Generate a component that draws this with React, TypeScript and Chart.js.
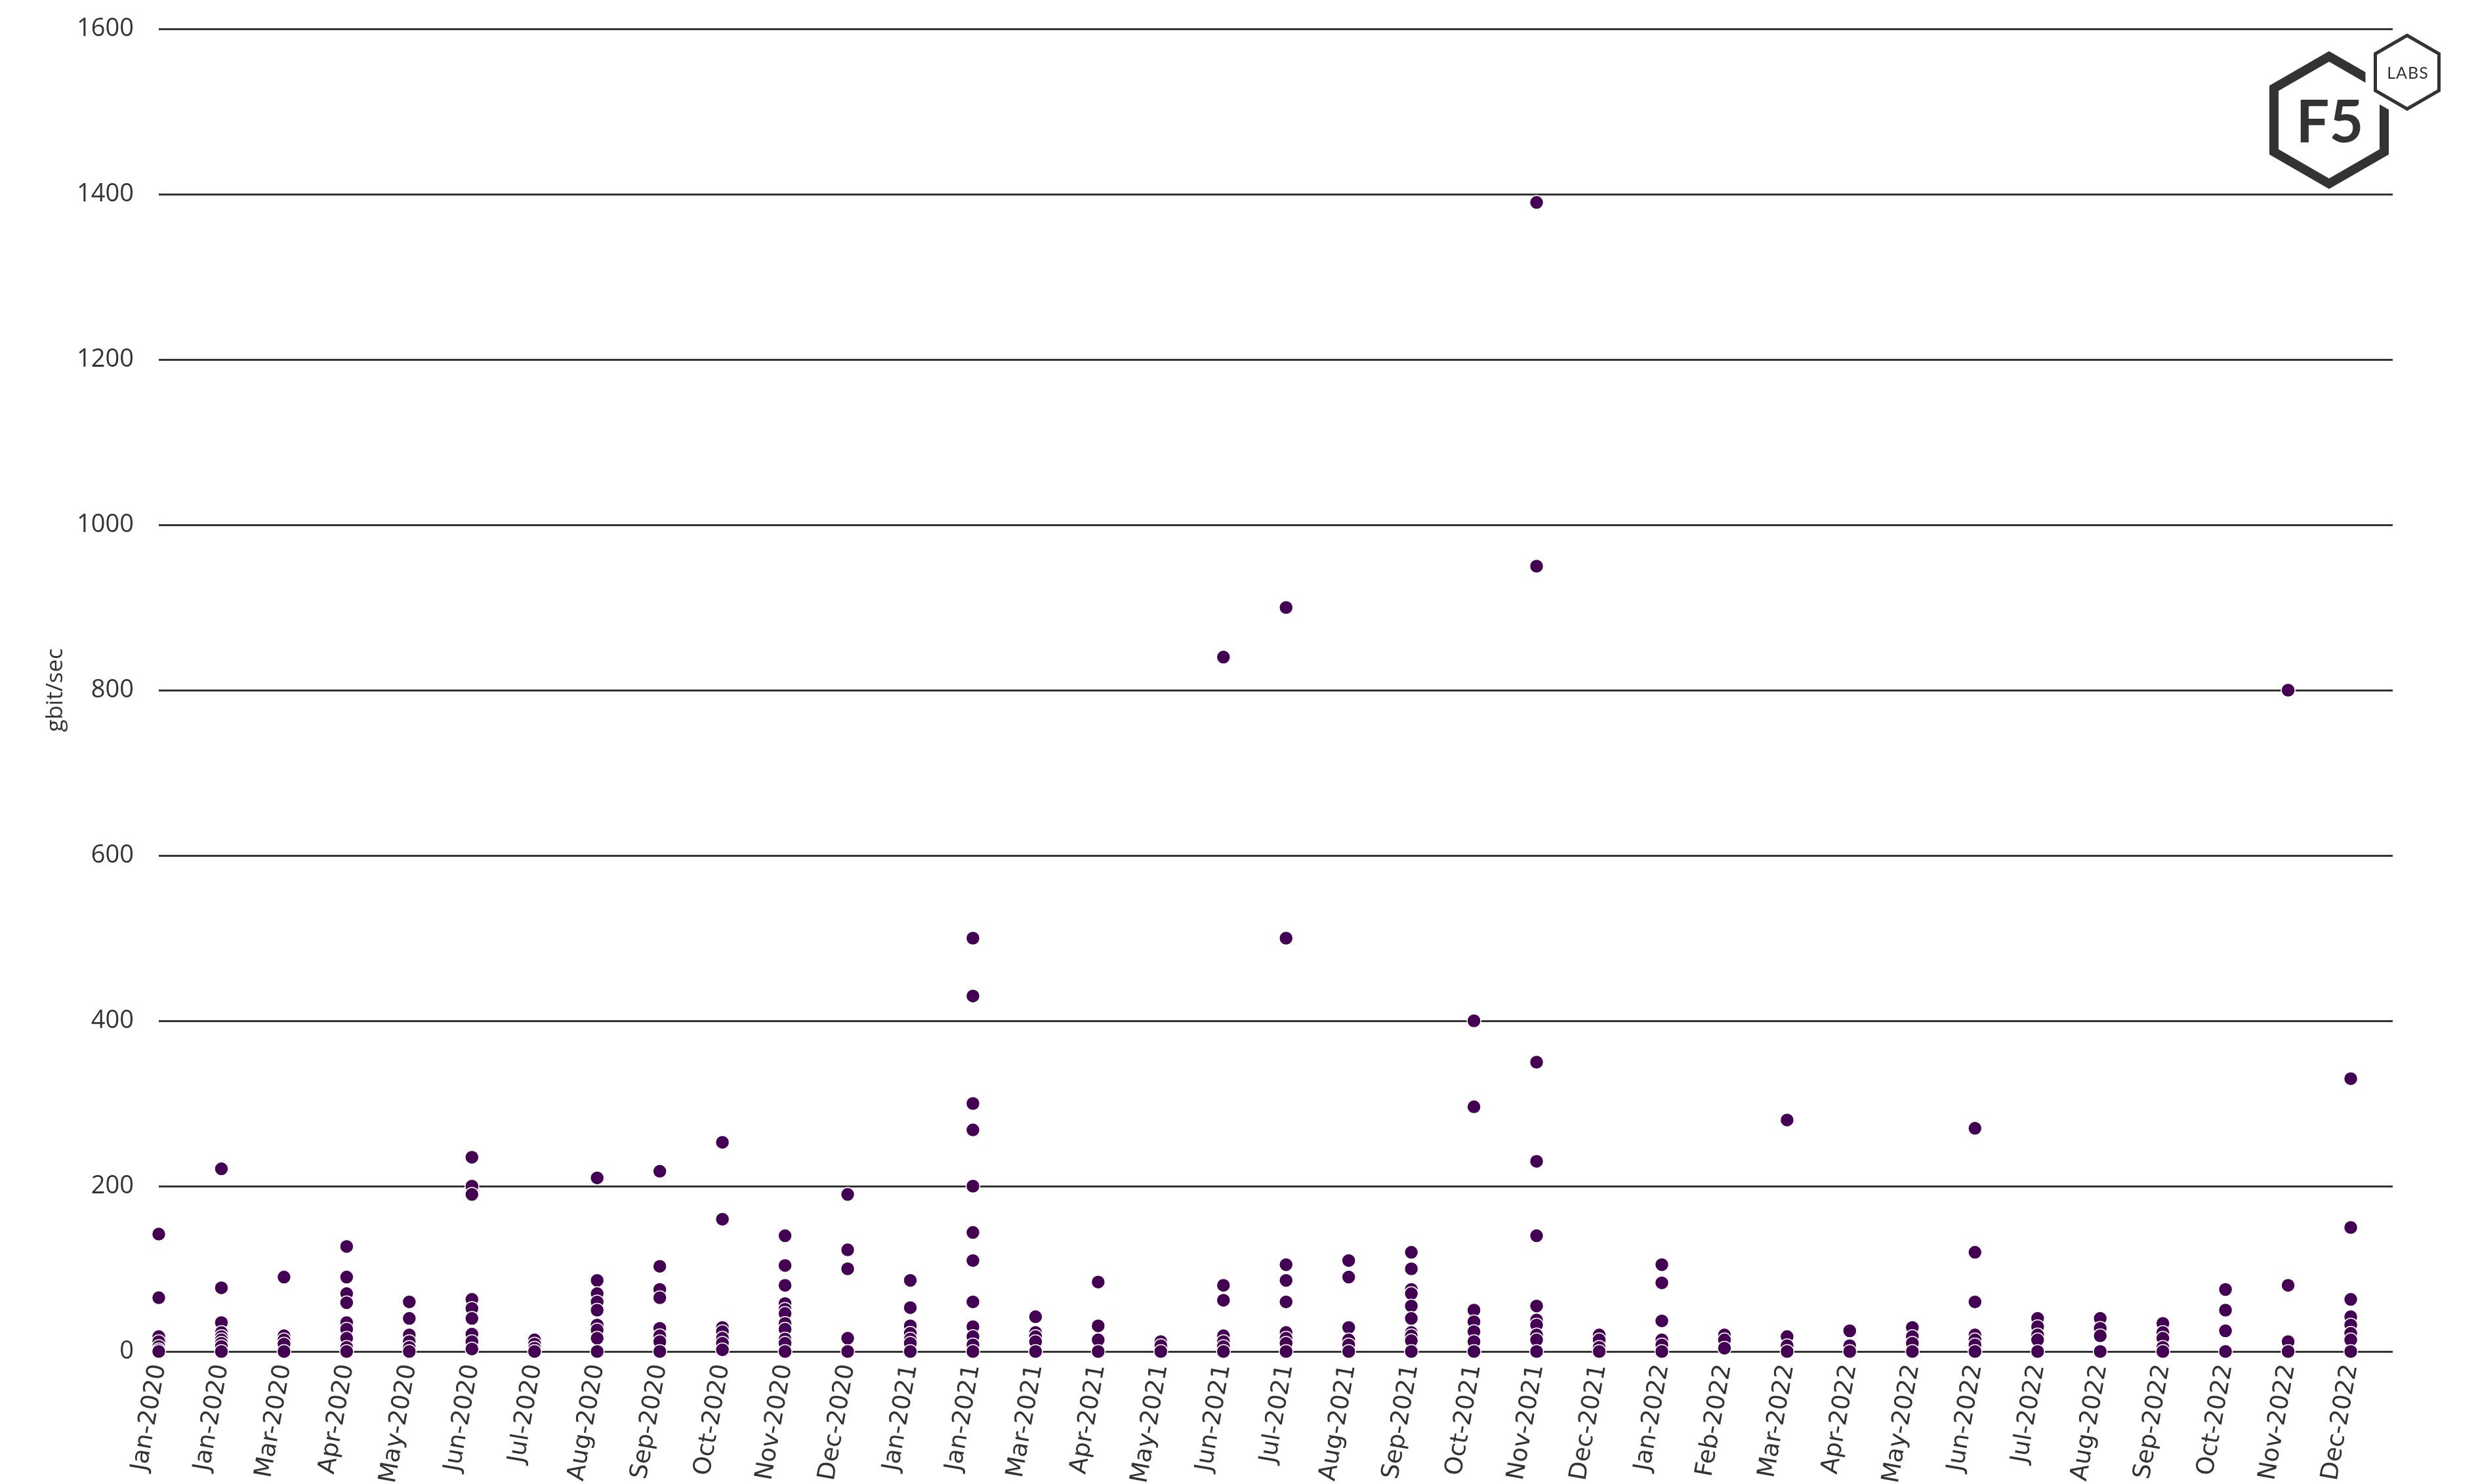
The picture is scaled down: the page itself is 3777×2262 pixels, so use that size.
import React, { useEffect, useRef } from "react";
import { Chart, registerables } from "chart.js";

Chart.register(...registerables);

const months: string[] = [
  "Jan-2020", "Jan-2020", "Mar-2020", "Apr-2020", "May-2020", "Jun-2020",
  "Jul-2020", "Aug-2020", "Sep-2020", "Oct-2020", "Nov-2020", "Dec-2020",
  "Jan-2021", "Jan-2021", "Mar-2021", "Apr-2021", "May-2021", "Jun-2021",
  "Jul-2021", "Aug-2021", "Sep-2021", "Oct-2021", "Nov-2021", "Dec-2021",
  "Jan-2022", "Feb-2022", "Mar-2022", "Apr-2022", "May-2022", "Jun-2022",
  "Jul-2022", "Aug-2022", "Sep-2022", "Oct-2022", "Nov-2022", "Dec-2022",
];

const attacks2020: number[][] = [
  [142, 65, 18, 12, 6, 2, 0],
  [221, 77, 35, 23, 18, 14, 10, 6, 0],
  [90, 19, 14, 9, 0],
  [127, 90, 70, 59, 35, 27, 16, 5, 0],
  [60, 40, 20, 12, 5, 0],
  [235, 200, 190, 63, 52, 40, 21, 12, 3],
  [14, 9, 4, 0],
  [210, 86, 70, 60, 50, 32, 26, 16, 0],
  [218, 103, 75, 65, 28, 19, 12, 0],
  [253, 160, 29, 24, 16, 10, 2],
  [140, 104, 80, 58, 51, 46, 34, 27, 15, 10, 0],
  [190, 123, 100, 16, 0],
];

const attacks2021: number[][] = [
  [86, 53, 31, 22, 15, 10, 0],
  [500, 430, 300, 268, 200, 144, 110, 60, 30, 18, 8, 0],
  [42, 23, 18, 12, 0],
  [84, 31, 14, 0],
  [12, 7, 0],
  [840, 80, 62, 19, 12, 6, 0],
  [900, 500, 105, 86, 60, 23, 16, 10, 0],
  [110, 90, 29, 14, 8, 0],
  [120, 100, 75, 70, 55, 40, 23, 19, 13, 0],
  [400, 296, 50, 36, 24, 12, 0],
  [1390, 950, 350, 230, 140, 55, 38, 32, 20, 14, 0],
  [20, 14, 5, 0],
];

const attacks2022: number[][] = [
  [105, 83, 37, 14, 8, 0],
  [20, 14, 4],
  [280, 18, 7, 0],
  [25, 7, 0],
  [29, 18, 10, 0],
  [270, 120, 60, 20, 14, 8, 0],
  [40, 30, 20, 14, 0],
  [40, 28, 19, 0],
  [34, 23, 16, 5, 0],
  [75, 50, 25, 0],
  [800, 80, 12, 0],
  [330, 150, 63, 42, 32, 22, 14, 0],
];

const yTicks: number[] = [0, 200, 400, 600, 800, 1000, 1200, 1400, 1600];

const W = 3777;
const H = 2262;

function hexPoints(cx: number, cy: number, r: number): string {
  const pts: string[] = [];
  for (let i = 0; i < 6; i++) {
    const a = ((-90 + 60 * i) * Math.PI) / 180;
    pts.push(`${(cx + r * Math.cos(a)).toFixed(1)},${(cy + r * Math.sin(a)).toFixed(1)}`);
  }
  return pts.join(" ");
}

export default function App() {
  const canvasRef = useRef<HTMLCanvasElement | null>(null);

  useEffect(() => {
    const canvas = canvasRef.current;
    if (!canvas) return;
    const allGroups = [...attacks2020, ...attacks2021, ...attacks2022];
    const points: { x: number; y: number }[] = [];
    allGroups.forEach((group, i) => {
      group.forEach((v) => points.push({ x: i, y: v }));
    });

    const chart = new Chart(canvas, {
      type: "scatter",
      data: {
        datasets: [
          {
            data: points,
            backgroundColor: "#440154",
            borderColor: "#ffffff",
            borderWidth: 1.5,
            pointRadius: 10.5,
            pointHoverRadius: 10.5,
            clip: false as any,
          },
        ],
      },
      options: {
        responsive: false,
        animation: false,
        layout: { padding: { top: 44, right: 130, left: 0, bottom: 0 } },
        plugins: {
          legend: { display: false },
          tooltip: { enabled: false },
        },
        scales: {
          x: {
            type: "linear",
            min: 0,
            max: 35.67,
            grid: { display: false },
            border: { display: false },
            afterBuildTicks: (s: any) => {
              s.ticks = months.map((_, i) => ({ value: i }));
            },
            afterFit: (s: any) => {
              s.height = 202;
            },
            ticks: {
              autoSkip: false,
              maxRotation: 80,
              minRotation: 80,
              padding: 8,
              color: "#333333",
              font: { family: "DejaVu Sans", size: 37 },
              callback: (v: any) => months[Number(v)] ?? "",
            },
          },
          y: {
            min: 0,
            max: 1600,
            afterBuildTicks: (s: any) => {
              s.ticks = yTicks.map((v) => ({ value: v }));
            },
            afterFit: (s: any) => {
              s.width = 242;
              s.paddingTop = 0;
              s.paddingBottom = 0;
            },
            grid: { color: "#333333", lineWidth: 3, drawTicks: false },
            border: { display: false },
            ticks: {
              padding: 38,
              color: "#333333",
              font: { family: "Open Sans", size: 38 },
              callback: (v: any) => String(v),
            },
            title: {
              display: true,
              text: "gbit/sec",
              color: "#333333",
              font: { family: "Open Sans", size: 35 },
              padding: { top: 64, bottom: 0 },
            },
          },
        },
      },
    });
    return () => chart.destroy();
  }, []);

  return (
    <div
      style={{
        position: "fixed",
        left: 0,
        top: 0,
        width: W,
        height: H,
        background: "#ffffff",
      }}
    >
      <canvas ref={canvasRef} width={W} height={H} style={{ display: "block", width: W, height: H }} />
      <svg
        width={W}
        height={H}
        style={{ position: "absolute", left: 0, top: 0, pointerEvents: "none" }}
      >
        <polygon points={hexPoints(3550, 183, 97)} fill="#ffffff" stroke="#333333" strokeWidth={14} />
        <text
          x={3551}
          y={217}
          textAnchor="middle"
          fill="#333333"
          style={{ font: "700 90px Lato" }}
        >
          F5
        </text>
        <polygon points={hexPoints(3669, 110, 56)} fill="#ffffff" stroke="#ffffff" strokeWidth={30} />
        <polygon points={hexPoints(3669, 110, 56)} fill="#ffffff" stroke="#333333" strokeWidth={5} />
        <text
          x={3670}
          y={120}
          textAnchor="middle"
          fill="#333333"
          style={{ font: "400 25px Lato", letterSpacing: "1px" }}
        >
          LABS
        </text>
      </svg>
    </div>
  );
}
